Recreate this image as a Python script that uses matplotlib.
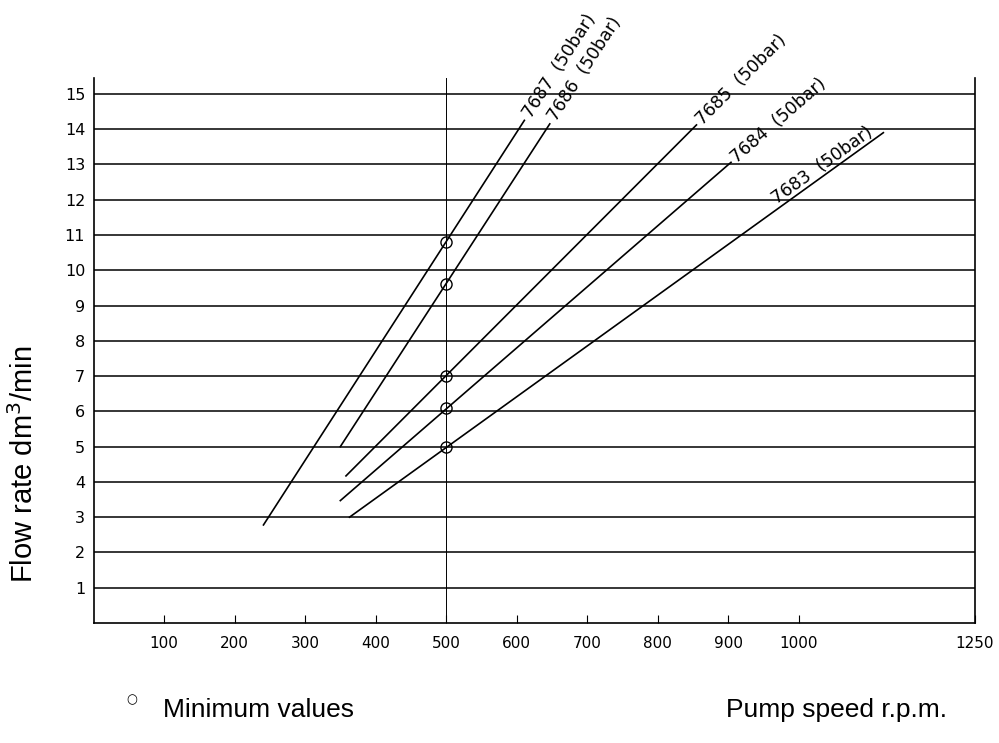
import matplotlib
matplotlib.use('Agg')
import matplotlib.pyplot as plt
import numpy as np

# pump types and their characteristic lines (rpm -> dm3/min)
pump_names = ['7687', '7686', '7685', '7684', '7683']
rpm_start = [241, 350, 358, 350, 363]
rpm_end = [611, 647, 855, 904, 1120]
flow_start = [2.78, 5.0, 4.17, 3.47, 3.0]
flow_end = [14.25, 14.15, 14.12, 13.06, 13.9]

# minimum values at 500 rpm
min_rpm = [500, 500, 500, 500, 500]
min_flow = [10.8, 9.6, 7.0, 6.1, 5.0]

x_ticks = [100, 200, 300, 400, 500, 600, 700, 800, 900, 1000, 1250]
y_ticks = list(range(1, 16))

fig = plt.figure(figsize=(9.99, 7.43), dpi=100)
ax = fig.add_axes([0.0936, 0.1615, 0.8824, 0.7335])

ax.set_xlim(0, 1250)
ax.set_ylim(0, 15.45)

# horizontal grid + line at 500 rpm
for y in y_ticks:
    ax.axhline(y, color='black', lw=1.1, zorder=1)
ax.axvline(500, color='black', lw=0.7, zorder=1)

for sp in ['left', 'right', 'bottom']:
    ax.spines[sp].set_linewidth(1.2)
ax.spines['top'].set_visible(False)

ax.set_xticks(x_ticks)
ax.set_xticklabels([str(t) for t in x_ticks])
ax.set_yticks(y_ticks)
ax.set_yticklabels([str(t) for t in y_ticks])
ax.tick_params(axis='x', direction='in', length=6, width=0.8, pad=9, labelsize=11)
ax.tick_params(axis='y', length=0, pad=6, labelsize=11.5)

lab_font = dict(family='DejaVu Sans', fontsize=12.5, color='black')

for i, name in enumerate(pump_names):
    xs = [rpm_start[i], rpm_end[i]]
    ys = [flow_start[i], flow_end[i]]
    ax.plot(xs, ys, color='black', lw=1.2, zorder=3)
    slope = (ys[1] - ys[0]) / (xs[1] - xs[0])
    ang = np.degrees(np.arctan2(ys[1] - ys[0], xs[1] - xs[0]))
    if name == '7683':
        # label sits on top of the line end
        tx = 972
        ty = ys[0] + slope * (tx - xs[0])
        ax.text(tx, ty, name + '  (50bar)', rotation=ang, transform_rotates_text=True,
                rotation_mode='anchor', ha='left', va='bottom', **lab_font)
    else:
        tx = xs[1] + 4
        ty = ys[1] + slope * 4
        ax.text(tx, ty, name + '  (50bar)', rotation=ang, transform_rotates_text=True,
                rotation_mode='anchor', ha='left', va='center', **lab_font)

ax.plot(min_rpm, min_flow, 'o', mfc='none', mec='black', ms=8, mew=1.0, zorder=4)

for lbl in ax.get_xticklabels() + ax.get_yticklabels():
    lbl.set_family('DejaVu Sans')

fig.text(0.024, 0.215, 'Flow rate dm$^3$/min', rotation=90, ha='center', va='bottom',
         family='Liberation Sans', fontsize=21)
fig.text(0.132, 0.058, '\u25cb', ha='center', va='center', family='DejaVu Sans', fontsize=9)
fig.text(0.163, 0.035, 'Minimum values', ha='left', va='baseline',
         family='Liberation Sans', fontsize=19)
fig.text(0.948, 0.035, 'Pump speed r.p.m.', ha='right', va='baseline',
         family='Liberation Sans', fontsize=19)

fig.savefig('out.png', dpi=100)
